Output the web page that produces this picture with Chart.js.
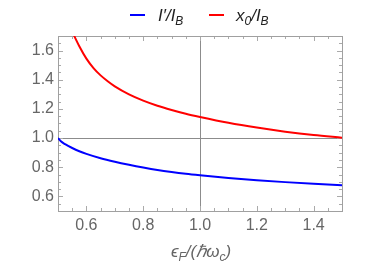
<!DOCTYPE html>
<html lang="en">
<head>
    <meta charset="UTF-8">
    <title>I'/I_B and x0/I_B</title>
    <script src="https://cdn.jsdelivr.net/npm/chart.js@4.4.1/dist/chart.umd.min.js"></script>
    <style>
        html, body { margin: 0; padding: 0; background: #fff; }
        #wrap { width: 374px; height: 267px; }
    </style>
</head>
<body>
    <div id="wrap"><canvas id="myChart"></canvas></div>
    <script>
        // values
        const xBlue = [0.5, 0.51, 0.525, 0.55, 0.575, 0.6, 0.65, 0.7, 0.75, 0.8, 0.85, 0.9, 0.95, 1.0, 1.1, 1.2, 1.3, 1.4, 1.5];
        const iPrimeRatio = [1.0, 0.978, 0.958, 0.932, 0.91, 0.892, 0.862, 0.838, 0.817, 0.798, 0.781, 0.767, 0.755, 0.745, 0.727, 0.711, 0.698, 0.687, 0.677];
        const xRed = [0.55, 0.575, 0.6, 0.625, 0.65, 0.675, 0.7, 0.75, 0.8, 0.85, 0.9, 0.95, 1.0, 1.1, 1.2, 1.3, 1.4, 1.5];
        const x0Ratio = [1.73, 1.63, 1.545, 1.48, 1.43, 1.39, 1.355, 1.30, 1.257, 1.222, 1.193, 1.167, 1.145, 1.105, 1.072, 1.044, 1.021, 1.003];
        const xTicks = [0.6, 0.8, 1.0, 1.2, 1.4];
        const yTicks = [0.6, 0.8, 1.0, 1.2, 1.4, 1.6];

        const labelFont = '17px "Liberation Sans", Arial, sans-serif';
        const italicFont = 'italic 17px "Liberation Sans", Arial, sans-serif';
        const subFont = 'italic 12px "Liberation Sans", Arial, sans-serif';

        // draws text pieces, some of them as subscripts
        function drawRich(ctx, parts, x, y, align) {
            let w = 0;
            parts.forEach(p => {
                ctx.font = p.sub ? subFont : (p.upright ? labelFont : italicFont);
                w += ctx.measureText(p.t).width;
            });
            let cx = align === 'center' ? x - w / 2 : x;
            parts.forEach(p => {
                ctx.font = p.sub ? subFont : (p.upright ? labelFont : italicFont);
                ctx.fillText(p.t, cx, p.sub ? y + 4 : y);
                cx += ctx.measureText(p.t).width;
            });
        }

        const framePlugin = {
            id: 'frame',
            beforeDatasetsDraw(chart) {
                const { ctx, chartArea: a, scales } = chart;
                const xs = scales.x, ys = scales.y;
                ctx.save();
                // axis lines through (1, 1)
                ctx.strokeStyle = '#8c8c8c';
                ctx.lineWidth = 1;
                const px = Math.round(xs.getPixelForValue(1.0)) + 0.5;
                const py = Math.round(ys.getPixelForValue(1.0)) + 0.5;
                ctx.beginPath();
                ctx.moveTo(px, a.top); ctx.lineTo(px, a.bottom);
                ctx.moveTo(a.left, py); ctx.lineTo(a.right, py);
                ctx.stroke();
                // inward ticks, every 0.05
                ctx.strokeStyle = '#aaaaaa';
                ctx.beginPath();
                for (let i = 0; i <= 20; i++) {
                    const v = 0.5 + i * 0.05;
                    const major = Math.abs(v * 5 - Math.round(v * 5)) < 1e-6;
                    const len = major ? 5 : 3;
                    const tx = Math.round(xs.getPixelForValue(v)) + 0.5;
                    ctx.moveTo(tx, a.bottom); ctx.lineTo(tx, a.bottom - len);
                    ctx.moveTo(tx, a.top); ctx.lineTo(tx, a.top + len);
                }
                for (let i = 0; i <= 24; i++) {
                    const v = 0.5 + i * 0.05;
                    const major = Math.abs(v * 5 - Math.round(v * 5)) < 1e-6;
                    const len = major ? 5 : 3;
                    const ty = Math.round(ys.getPixelForValue(v)) + 0.5;
                    ctx.moveTo(a.left, ty); ctx.lineTo(a.left + len, ty);
                    ctx.moveTo(a.right, ty); ctx.lineTo(a.right - len, ty);
                }
                ctx.stroke();
                // frame
                ctx.strokeStyle = '#a0a0a0';
                ctx.strokeRect(Math.round(a.left) + 0.5, Math.round(a.top) + 0.5,
                    Math.round(a.right - a.left), Math.round(a.bottom - a.top));
                ctx.restore();
            },
            afterDraw(chart) {
                const { ctx } = chart;
                ctx.save();
                ctx.fillStyle = '#222';
                ctx.textBaseline = 'alphabetic';
                ctx.textAlign = 'left';
                // legend
                ctx.lineWidth = 2;
                ctx.strokeStyle = '#0000ff';
                ctx.beginPath(); ctx.moveTo(130, 15); ctx.lineTo(145, 15); ctx.stroke();
                drawRich(ctx, [{ t: 'I′/I' }, { t: 'B', sub: true }], 158, 21);
                ctx.strokeStyle = '#ff0000';
                ctx.beginPath(); ctx.moveTo(209, 15); ctx.lineTo(224, 15); ctx.stroke();
                drawRich(ctx, [{ t: 'x' }, { t: '0', sub: true }, { t: '/I' }, { t: 'B', sub: true }], 236, 21);
                // x axis title
                ctx.fillStyle = '#666';
                drawRich(ctx, [{ t: 'ϵ' }, { t: 'F', sub: true }, { t: '/(ℏω' }, { t: 'c', sub: true }, { t: ')' }], 201, 257, 'center');
                ctx.restore();
            }
        };

        const ctx = document.getElementById('myChart').getContext('2d');
        new Chart(ctx, {
            type: 'line',
            data: {
                datasets: [
                    {
                        label: "I'/I_B",
                        data: xBlue.map((x, i) => ({ x: x, y: iPrimeRatio[i] })),
                        borderColor: '#0000ff',
                        borderWidth: 2,
                        pointRadius: 0,
                        cubicInterpolationMode: 'monotone',
                        fill: false
                    },
                    {
                        label: 'x0/I_B',
                        data: xRed.map((x, i) => ({ x: x, y: x0Ratio[i] })),
                        borderColor: '#ff0000',
                        borderWidth: 2,
                        pointRadius: 0,
                        cubicInterpolationMode: 'monotone',
                        fill: false
                    }
                ]
            },
            options: {
                responsive: true,
                maintainAspectRatio: false,
                animation: false,
                layout: { padding: { left: 0, right: 32, top: 36, bottom: 0 } },
                plugins: { legend: { display: false }, tooltip: { enabled: false } },
                scales: {
                    x: {
                        type: 'linear',
                        min: 0.5,
                        max: 1.5,
                        afterBuildTicks: s => { s.ticks = xTicks.map(v => ({ value: v })); },
                        afterFit: s => { s.height = 56; },
                        grid: { display: false, drawTicks: false },
                        border: { display: false },
                        ticks: {
                            color: '#666',
                            font: { family: '"Liberation Sans", Arial, sans-serif', size: 16 },
                            padding: 5,
                            maxRotation: 0,
                            callback: v => v.toFixed(1)
                        }
                    },
                    y: {
                        type: 'linear',
                        min: 0.5,
                        max: 1.7,
                        afterBuildTicks: s => { s.ticks = yTicks.map(v => ({ value: v })); },
                        afterFit: s => { s.width = 58; },
                        grid: { display: false, drawTicks: false },
                        border: { display: false },
                        ticks: {
                            color: '#666',
                            font: { family: '"Liberation Sans", Arial, sans-serif', size: 16 },
                            padding: 4,
                            callback: v => v.toFixed(1)
                        }
                    }
                }
            },
            plugins: [framePlugin]
        });
    </script>
</body>
</html>
